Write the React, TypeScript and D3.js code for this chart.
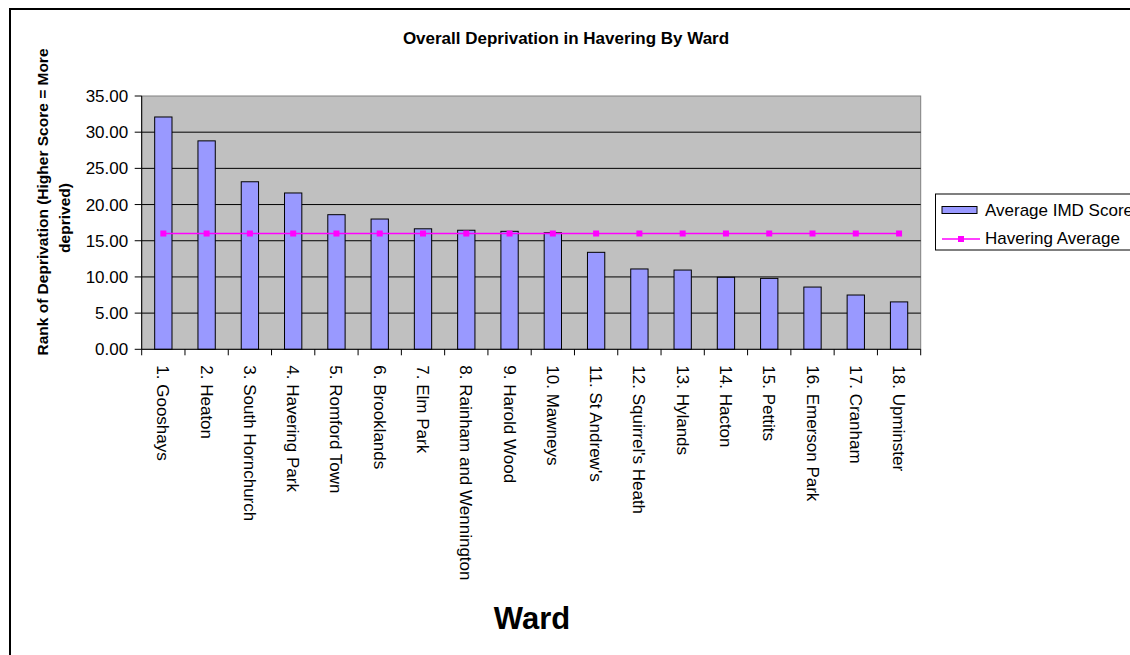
import React from "react";
import * as d3 from "d3";

const wards = [
  "1. Gooshays",
  "2. Heaton",
  "3. South Hornchurch",
  "4. Havering Park",
  "5. Romford Town",
  "6. Brooklands",
  "7. Elm Park",
  "8. Rainham and Wennington",
  "9. Harold Wood",
  "10. Mawneys",
  "11. St Andrew's",
  "12. Squirrel's Heath",
  "13. Hylands",
  "14. Hacton",
  "15. Pettits",
  "16. Emerson Park",
  "17. Cranham",
  "18. Upminster",
];
const imdScores = [32.1, 28.8, 23.15, 21.6, 18.6, 18.0, 16.65, 16.45, 16.3, 16.1, 13.4, 11.1, 10.95, 9.95, 9.8, 8.6, 7.5, 6.55];
const haveringAverage = [16.0, 16.0, 16.0, 16.0, 16.0, 16.0, 16.0, 16.0, 16.0, 16.0, 16.0, 16.0, 16.0, 16.0, 16.0, 16.0, 16.0, 16.0];
const yTicks = [0, 5, 10, 15, 20, 25, 30, 35];

const W = 1130;
const H = 655;
const plot = { left: 141.7, right: 920.7, top: 96, bottom: 349.3 };
const FONT = "'Liberation Sans', Arial, sans-serif";
const FS = 17;

export default function App() {
  const x = d3.scaleBand<string>().domain(wards).range([plot.left, plot.right]).paddingInner(0.6).paddingOuter(0.3);
  const xOuter = d3.scaleBand<string>().domain(wards).range([plot.left, plot.right]);
  const y = d3.scaleLinear().domain([0, 35]).range([plot.bottom, plot.top]);
  const line = d3
    .line<number>()
    .x((_, i) => (xOuter(wards[i]) as number) + xOuter.bandwidth() / 2)
    .y((d) => y(d));
  const boundaries = wards.map((w) => xOuter(w) as number).concat([plot.right]);
  const ms = 6;

  return (
    <svg width={W} height={H} style={{ position: "absolute", left: 0, top: 0 }} fontFamily={FONT}>
      <rect x={0} y={0} width={W} height={H} fill="#fff" />
      <rect x={10} y={9} width={W + 20} height={H + 20} fill="#fff" stroke="#000" strokeWidth={2} />
      <text x={566} y={44} textAnchor="middle" fontSize={17} fontWeight="bold">
        Overall Deprivation in Havering By Ward
      </text>

      {/* plot area */}
      <rect x={plot.left} y={plot.top} width={plot.right - plot.left} height={plot.bottom - plot.top} fill="#C0C0C0" stroke="#808080" strokeWidth={1} />
      {yTicks.slice(1, -1).map((t) => (
        <line key={t} x1={plot.left} x2={plot.right} y1={y(t)} y2={y(t)} stroke="#000" strokeWidth={1} />
      ))}

      {/* bars */}
      {imdScores.map((v, i) => (
        <rect
          key={wards[i]}
          x={x(wards[i])}
          y={y(v)}
          width={x.bandwidth()}
          height={plot.bottom - y(v)}
          fill="#9999FF"
          stroke="#000"
          strokeWidth={1}
        />
      ))}

      {/* average line */}
      <path d={line(haveringAverage) || ""} fill="none" stroke="#FF00FF" strokeWidth={1.5} />
      {haveringAverage.map((v, i) => (
        <rect
          key={i}
          x={(xOuter(wards[i]) as number) + xOuter.bandwidth() / 2 - ms / 2}
          y={y(v) - ms / 2}
          width={ms}
          height={ms}
          fill="#FF00FF"
        />
      ))}

      {/* axes */}
      <line x1={plot.left} x2={plot.left} y1={plot.top} y2={plot.bottom} stroke="#000" />
      <line x1={plot.left} x2={plot.right} y1={plot.bottom} y2={plot.bottom} stroke="#000" />
      {yTicks.map((t) => (
        <g key={t}>
          <line x1={plot.left - 7} x2={plot.left} y1={y(t)} y2={y(t)} stroke="#000" />
          <text x={plot.left - 13.5} y={y(t)} dy="0.35em" textAnchor="end" fontSize={FS}>
            {t.toFixed(2)}
          </text>
        </g>
      ))}
      {boundaries.map((b, i) => (
        <line key={i} x1={b} x2={b} y1={plot.bottom} y2={plot.bottom + 6} stroke="#000" />
      ))}
      {wards.map((w) => {
        const cx = (xOuter(w) as number) + xOuter.bandwidth() / 2;
        const ty = plot.bottom + 16;
        return (
          <text key={w} transform={`translate(${cx},${ty}) rotate(90)`} dy="0.35em" fontSize={FS}>
            {w}
          </text>
        );
      })}

      {/* y axis title */}
      <g fontSize={15.5} fontWeight="bold" textAnchor="middle">
        <text transform="translate(48,202) rotate(-90)">Rank of Deprivation (Higher Score = More</text>
        <text transform="translate(69.5,218) rotate(-90)">deprived)</text>
      </g>

      {/* x axis title */}
      <text x={532} y={629} textAnchor="middle" fontSize={31} fontWeight="bold">
        Ward
      </text>

      {/* legend */}
      <rect x={935.5} y={194} width={220} height={56} fill="#fff" stroke="#000" strokeWidth={1} />
      <rect x={942} y={206.5} width={35} height={7} fill="#9999FF" stroke="#000" strokeWidth={1} />
      <text x={985} y={210} dy="0.35em" fontSize={FS}>
        Average IMD Score
      </text>
      <line x1={942} x2={980} y1={239} y2={239} stroke="#FF00FF" strokeWidth={1.5} />
      <rect x={961 - ms / 2} y={239 - ms / 2} width={ms} height={ms} fill="#FF00FF" />
      <text x={985} y={238} dy="0.35em" fontSize={FS}>
        Havering Average
      </text>
    </svg>
  );
}
